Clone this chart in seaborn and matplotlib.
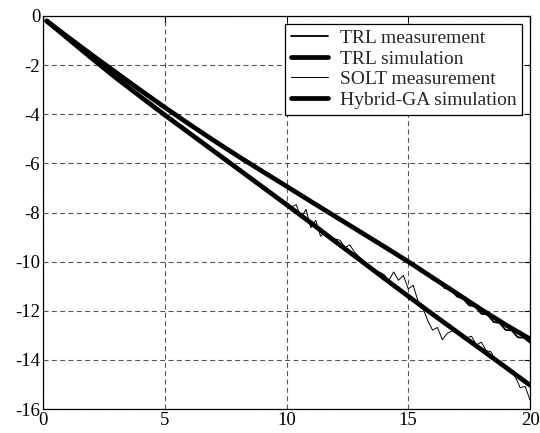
import numpy as np
import pandas as pd
import seaborn as sns
import matplotlib.pyplot as plt

# frequency (GHz) and loss (dB)
f_sim = [0.15, 1, 2, 3, 4, 5, 6, 7, 8, 9, 10, 11, 12, 13, 14, 15, 16, 17, 18, 19, 20]
trl_sim = [-0.2, -0.84, -1.58, -2.3, -3.02, -3.72, -4.4, -5.06, -5.7, -6.32, -6.93,
           -7.55, -8.16, -8.77, -9.38, -10.0, -10.65, -11.3, -11.95, -12.57, -13.15]
ga_sim = [-0.2, -0.9, -1.72, -2.52, -3.28, -4.03, -4.76, -5.49, -6.22, -6.95, -7.68,
          -8.42, -9.18, -9.92, -10.67, -11.41, -12.14, -12.86, -13.58, -14.3, -15.03]

f_trl = [0.15, 1, 2, 3, 4, 5, 6, 7, 8, 9, 10, 11, 12, 13,
         14.0, 14.25, 14.5, 14.75, 15.0, 15.25, 15.5, 15.75, 16.0, 16.25, 16.5, 16.75,
         17.0, 17.25, 17.5, 17.75, 18.0, 18.25, 18.5, 18.75, 19.0, 19.25, 19.5, 19.75, 20.0]
trl_meas = [-0.2, -0.85, -1.59, -2.31, -3.02, -3.73, -4.41, -5.07, -5.71, -6.33, -6.94, -7.56, -8.17, -8.78,
            -9.40, -9.58, -9.66, -9.90, -10.02, -10.12, -10.40, -10.47, -10.72, -10.80, -11.08, -11.12,
            -11.42, -11.50, -11.78, -11.82, -12.12, -12.15, -12.45, -12.50, -12.78, -12.80, -13.08, -13.10, -13.30]

f_solt = [0.15, 1, 2, 3, 4, 5, 6, 7, 8,
          9.0, 9.2, 9.4, 9.6, 9.8, 10.0, 10.2, 10.4, 10.6, 10.8, 11.0, 11.2, 11.4, 11.6, 11.8,
          12.0, 12.2, 12.4, 12.6, 12.8, 13.0, 13.2, 13.4, 13.6, 13.8, 14.0, 14.2, 14.4, 14.6, 14.8,
          15.0, 15.2, 15.4, 15.6, 15.8, 16.0, 16.2, 16.4, 16.6, 16.8, 17.0, 17.2, 17.4, 17.6, 17.8,
          18.0, 18.2, 18.4, 18.6, 18.8, 19.0, 19.2, 19.4, 19.6, 19.8, 20.0]
solt_meas = [-0.2, -0.9, -1.72, -2.52, -3.28, -4.03, -4.76, -5.49, -6.22,
             -6.95, -7.05, -7.29, -7.31, -7.57, -7.58, -7.78, -7.68, -8.22, -7.87, -8.62, -8.32, -8.97, -8.78, -9.08,
             -9.08, -9.13, -9.43, -9.32, -9.62, -9.82, -10.07, -10.17, -10.42, -10.42, -10.52, -10.77, -10.42, -10.76, -10.56,
             -11.11, -10.96, -11.60, -11.90, -12.40, -12.79, -12.68, -13.18, -12.92, -12.82, -12.81, -13.05, -13.10, -13.04, -13.39,
             -13.28, -13.62, -13.67, -14.06, -14.06, -14.40, -14.40, -14.69, -15.14, -15.08, -15.63]

sim = pd.DataFrame({'f': f_sim, 'trl': trl_sim, 'ga': ga_sim})
trl = pd.DataFrame({'f': f_trl, 'val': trl_meas})
solt = pd.DataFrame({'f': f_solt, 'val': solt_meas})

sns.set_style("white")
plt.rcParams['font.family'] = ['Liberation Serif', 'DejaVu Serif']
plt.rcParams['font.size'] = 13
plt.rcParams['axes.unicode_minus'] = False

fig = plt.figure(figsize=(5.4, 4.33), dpi=100)
ax = fig.add_axes([43/540, 24/433, 487/540, 393/433])

sns.lineplot(data=trl, x='f', y='val', color='black', lw=1.3, label='TRL measurement', ax=ax)
sns.lineplot(data=sim, x='f', y='trl', color='black', lw=3.4, label='TRL simulation', ax=ax)
sns.lineplot(data=solt, x='f', y='val', color='black', lw=0.7, label='SOLT measurement', ax=ax)
sns.lineplot(data=sim, x='f', y='ga', color='black', lw=3.4, label='Hybrid-GA simulation', ax=ax)

ax.set_xlim(0, 20)
ax.set_ylim(-16, 0)
ax.set_xticks([0, 5, 10, 15, 20])
ax.set_yticks(np.arange(-16, 1, 2))
ax.set_xlabel('')
ax.set_ylabel('')
ax.grid(True, color='#555555', lw=0.8, linestyle=(0, (4.5, 3)))
ax.tick_params(direction='in', length=4, pad=2, top=True, right=True, labelsize=13.5, colors='black')
for s in ax.spines.values():
    s.set_color('black')
    s.set_linewidth(0.9)

leg = ax.legend(loc='upper right', fontsize=14, frameon=True, fancybox=False, borderaxespad=0.4,
                labelspacing=0.15, handlelength=1.9, handletextpad=0.6, borderpad=0.3)
leg.get_frame().set_edgecolor('black')
leg.get_frame().set_linewidth(0.9)
leg.get_frame().set_alpha(1)

fig.savefig('out.png', dpi=100)
